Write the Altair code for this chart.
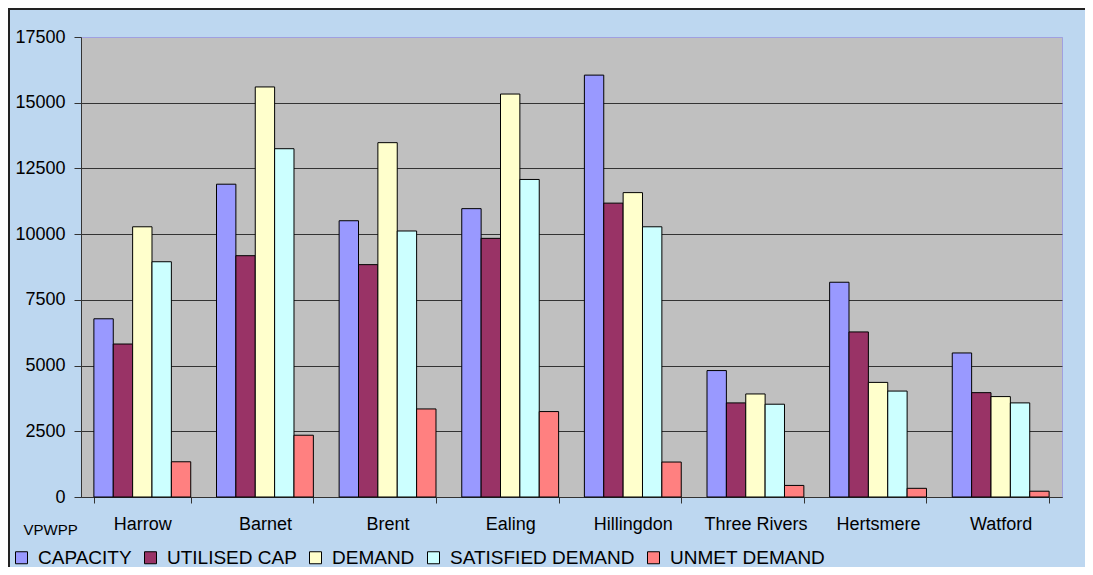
import altair as alt
import pandas as pd

categories = ["Harrow", "Barnet", "Brent", "Ealing", "Hillingdon",
              "Three Rivers", "Hertsmere", "Watford"]
series = ["CAPACITY", "UTILISED CAP", "DEMAND", "SATISFIED DEMAND", "UNMET DEMAND"]
capacity = [6780, 11900, 10510, 10970, 16050, 4810, 8170, 5480]
utilised = [5820, 9180, 8840, 9840, 11180, 3580, 6280, 3970]
demand = [10280, 15600, 13480, 15330, 11580, 3920, 4360, 3820]
satisfied = [8950, 13250, 10120, 12080, 10280, 3530, 4030, 3580]
unmet = [1340, 2350, 3350, 3250, 1330, 440, 330, 220]
colors = ["#9999FF", "#993366", "#FFFFCC", "#CCFFFF", "#FF8080"]
y_ticks = [0, 2500, 5000, 7500, 10000, 12500, 15000, 17500]

rows = []
for s, vals in zip(series, [capacity, utilised, demand, satisfied, unmet]):
    for c, v in zip(categories, vals):
        rows.append({"region": c, "series": s, "value": v})
df = pd.DataFrame(rows)

FONT = "Liberation Sans"

bars = alt.Chart(df).mark_bar(stroke="black", strokeWidth=1).encode(
    x=alt.X("region:N", sort=categories,
            scale=alt.Scale(paddingInner=0.21, paddingOuter=0.105),
            axis=alt.Axis(title="VPWPP", labelAngle=0, labelFontSize=18, labelFont=FONT,
                          labelColor="black", labelPadding=12, tickSize=6, tickBand="extent",
                          tickColor="#333333", domainColor="#333333", grid=False,
                          titleX=-58, titleY=37, titleAlign="left", titleAnchor="start",
                          titleBaseline="alphabetic", titleFontSize=15, titleFont=FONT,
                          titleFontWeight="normal", titleColor="black")),
    xOffset=alt.XOffset("series:N", sort=series,
                        scale=alt.Scale(paddingInner=0, paddingOuter=0)),
    y=alt.Y("value:Q", scale=alt.Scale(domain=[0, 17500], nice=False),
            axis=alt.Axis(title=None, values=y_ticks, format="d", labelFontSize=18,
                          labelFont=FONT, labelColor="black", labelPadding=9, tickSize=7,
                          tickColor="#333333", domainColor="#333333",
                          gridColor={"condition": {"test": "datum.value >= 17500",
                                                   "value": "#A0A0E0"},
                                     "value": "#333333"},
                          gridWidth=1)),
    color=alt.Color("series:N", sort=series,
                    scale=alt.Scale(domain=series, range=colors),
                    legend=alt.Legend(title=None, orient="none", legendX=-69, legendY=511,
                                      direction="horizontal", symbolType="square",
                                      symbolSize=144, symbolStrokeColor="black",
                                      symbolStrokeWidth=1, symbolOpacity=1,
                                      labelFontSize=19, labelFont=FONT, labelColor="black",
                                      labelOffset=7, columnPadding=9, labelLimit=400)),
)

frame = pd.DataFrame({"k": [0]})
top_rule = alt.Chart(frame).mark_rule(color="#222222", strokeWidth=2).encode(
    x=alt.value(-73), x2=alt.value(1010), y=alt.value(-28))
left_rule = alt.Chart(frame).mark_rule(color="#222222", strokeWidth=2).encode(
    x=alt.value(-72), y=alt.value(-29), y2=alt.value(540))

chart = alt.layer(bars, top_rule, left_rule).properties(
    width=981, height=460,
    autosize=alt.AutoSizeParams(type="none"),
    padding={"left": 73, "top": 29, "right": 23, "bottom": 70},
    background="#BDD7F0",
).configure_view(fill="#C0C0C0", stroke="#A0A0E0", strokeWidth=1)

chart.save("out.html", embed_options={"renderer": "svg", "actions": False})
